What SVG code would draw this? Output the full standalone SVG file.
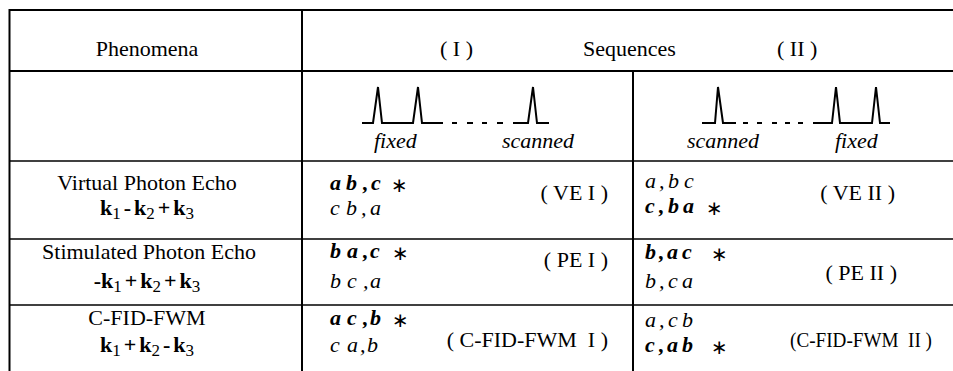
<svg xmlns="http://www.w3.org/2000/svg" width="953" height="371" viewBox="0 0 953 371">
<style>
.t{font-family:"Liberation Serif","Times New Roman",serif;font-size:22px;fill:#000}
.i{font-style:italic}
.bi{font-style:italic;font-weight:bold}
.b{font-weight:bold}
.sub{font-size:17px;font-weight:normal}
.ast{font-family:"DejaVu Sans",sans-serif;font-style:normal;font-weight:normal;font-size:20px}
.c{text-anchor:middle}
.e{text-anchor:end}
.ln{stroke:#000;stroke-width:2;fill:none}
.ln1{stroke:#000;stroke-width:1.6;fill:none}
</style>
<g id="grid">
<line class="ln" x1="9" y1="10" x2="953" y2="10"/>
<line class="ln" x1="9" y1="71" x2="953" y2="71"/>
<line class="ln1" x1="9" y1="161" x2="953" y2="161"/>
<line class="ln1" x1="9" y1="239" x2="953" y2="239"/>
<line class="ln1" x1="9" y1="305" x2="953" y2="305"/>
<line class="ln" x1="9.5" y1="9" x2="9.5" y2="371"/>
<line class="ln" x1="302" y1="9" x2="302" y2="371"/>
<line class="ln" x1="633" y1="71" x2="633" y2="371"/>
</g>
<g id="header">
<text class="t c" x="147" y="56">Phenomena</text>
<text class="t" x="440" y="56">( I )</text>
<text class="t" x="583" y="56">Sequences</text>
<text class="t" x="777" y="56">( II )</text>
</g>
<g id="pulses">
<path class="ln" d="M362,123 H373 L378,87 L382,123 H413 L418,87 L422,123 H443 M452,123 H457 M467,123 H473 M482,123 H487 M497,123 H503 M513,123 H528 L533,87 L537,123 H549"/>
<path class="ln" d="M702,123 H715 L718,87 L723,123 H736 M743,123 H748 M757,123 H762 M772,123 H777 M785,123 H790 M798,123 H803 M813,123 H832 L836,87 L840,123 H872 L876,87 L880,123 H890"/>
<text class="t i" x="374" y="148">fixed</text>
<text class="t i" x="502" y="148">scanned</text>
<text class="t i" x="687" y="148">scanned</text>
<text class="t i" x="835" y="148">fixed</text>
</g>
<g id="row-ve">
<text class="t c" x="147" y="190">Virtual Photon Echo</text>
<text class="t c b" x="147" y="215">k<tspan class="sub" dy="4">1</tspan><tspan dx="3" dy="-4">-</tspan><tspan dx="3">k</tspan><tspan class="sub" dy="4">2</tspan><tspan dx="3" dy="-4">+</tspan><tspan dx="3">k</tspan><tspan class="sub" dy="4">3</tspan></text>
<text class="t bi" x="330 346 363 371" y="190">ab,c</text>
<text class="t ast" x="391" y="192">∗</text>
<text class="t i" x="330 346 361 370" y="215">cb,a</text>
<text class="t e" x="608" y="200">( VE I )</text>
<text class="t i" x="645 659 668 684" y="188">a,bc</text>
<text class="t bi" x="645 659 668 683" y="213">c,ba</text>
<text class="t ast" x="706" y="215">∗</text>
<text class="t e" x="895" y="200">( VE II )</text>
</g>
<g id="row-pe">
<text class="t c" x="149" y="259">Stimulated Photon Echo</text>
<text class="t c b" x="147" y="288">-k<tspan class="sub" dy="4">1</tspan><tspan dx="3" dy="-4">+</tspan><tspan dx="3">k</tspan><tspan class="sub" dy="4">2</tspan><tspan dx="3" dy="-4">+</tspan><tspan dx="3">k</tspan><tspan class="sub" dy="4">3</tspan></text>
<text class="t bi" x="330 347 363 370" y="258">ba,c</text>
<text class="t ast" x="392" y="260">∗</text>
<text class="t i" x="330 347 363 370" y="288">bc,a</text>
<text class="t e" x="608" y="267">( PE I )</text>
<text class="t bi" x="645 659 667 682" y="259">b,ac</text>
<text class="t ast" x="711" y="261">∗</text>
<text class="t i" x="645 659 668 682" y="288">b,ca</text>
<text class="t e" x="897" y="280">( PE II )</text>
</g>
<g id="row-cfid">
<text class="t c" x="147" y="325">C-FID-FWM</text>
<text class="t c b" x="147" y="352">k<tspan class="sub" dy="4">1</tspan><tspan dx="3" dy="-4">+</tspan><tspan dx="3">k</tspan><tspan class="sub" dy="4">2</tspan><tspan dx="3" dy="-4">-</tspan><tspan dx="3">k</tspan><tspan class="sub" dy="4">3</tspan></text>
<text class="t bi" x="330 347 363 370" y="325">ac,b</text>
<text class="t ast" x="392" y="327">∗</text>
<text class="t i" x="330 347 360 367" y="352">ca,b</text>
<text class="t e" x="608" y="347" xml:space="preserve">( C-FID-FWM  I )</text>
<text class="t i" x="645 659 668 682" y="327">a,cb</text>
<text class="t bi" x="645 659 667 682" y="352">c,ab</text>
<text class="t ast" x="711" y="354">∗</text>
<text class="t" x="790" y="347" textLength="142" lengthAdjust="spacingAndGlyphs" xml:space="preserve">(C-FID-FWM  II )</text>
</g>
</svg>
